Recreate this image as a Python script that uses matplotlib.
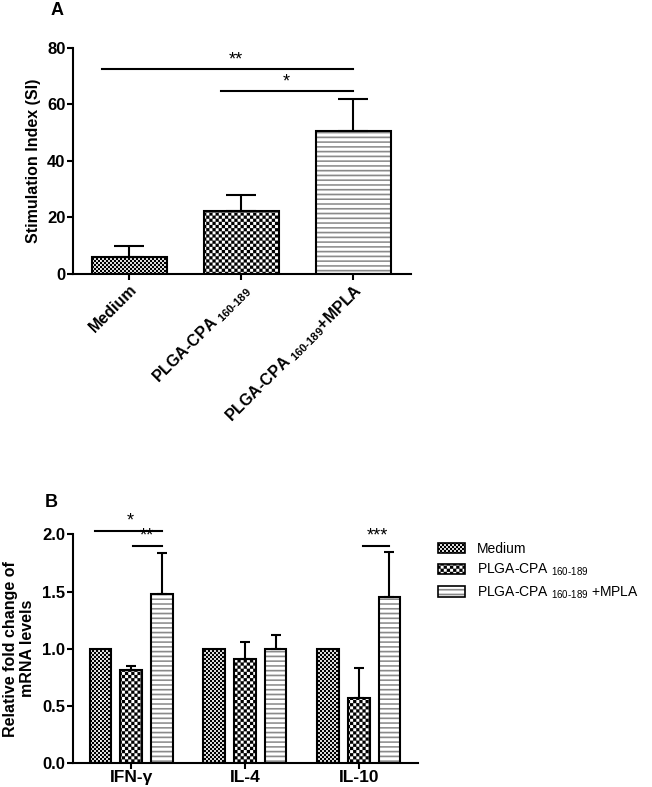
import numpy as np
import matplotlib
matplotlib.use('Agg')
import matplotlib.pyplot as plt
import matplotlib.hatch as mhatch
from matplotlib.path import Path
from matplotlib.patches import Patch

plt.rcParams['font.family'] = ['Liberation Sans', 'DejaVu Sans']
plt.rcParams['mathtext.fontset'] = 'custom'
plt.rcParams['mathtext.rm'] = 'Liberation Sans'
plt.rcParams['mathtext.bf'] = 'Liberation Sans:bold'
plt.rcParams['hatch.linewidth'] = 0.1

# --- data ---
groups_a = ['Medium', 'PLGA-CPA $_{\\mathregular{160\u2010189}}$',
            'PLGA-CPA $_{\\mathregular{160\u2010189}}$+MPLA']
si_mean = [6.0, 22.4, 50.6]
si_err = [3.9, 5.4, 11.5]

cytokines = ['IFN-\u03b3', 'IL-4', 'IL-10']
medium_fold = [1.0, 1.0, 1.0]
plga_fold = [0.81, 0.91, 0.57]
plga_err = [0.04, 0.15, 0.26]
mpla_fold = [1.48, 1.0, 1.45]
mpla_err = [0.36, 0.12, 0.40]
legend_labels = ['Medium', 'PLGA-CPA $_{\\mathregular{160\u2010189}}$',
                 'PLGA-CPA $_{\\mathregular{160\u2010189}}$ +MPLA']


# custom hatches: 'o' * n -> checkerboard with 2n cells per inch,
# '-' * n -> n grey stripes per inch (drawn as thin filled boxes)
class CheckerHatch(mhatch.HatchPatternBase):
    def __init__(self, hatch, density):
        self.n = hatch.count('o') * 2
        self.num_vertices = (self.n * self.n // 2) * 5

    def set_vertices_and_codes(self, vertices, codes):
        n = self.n
        c = 1.0 / n
        k = 0
        for i in range(n):
            for j in range(n):
                if (i + j) % 2:
                    continue
                x0, y0 = j * c, i * c
                vertices[k:k + 5] = [(x0, y0), (x0 + c, y0), (x0 + c, y0 + c),
                                     (x0, y0 + c), (x0, y0)]
                codes[k:k + 5] = [Path.MOVETO, Path.LINETO, Path.LINETO,
                                  Path.LINETO, Path.CLOSEPOLY]
                k += 5


class StripeHatch(mhatch.HatchPatternBase):
    def __init__(self, hatch, density):
        self.n = hatch.count('-')
        self.num_vertices = self.n * 5

    def set_vertices_and_codes(self, vertices, codes):
        t = 0.015
        for i in range(self.n):
            y0 = i / self.n
            vertices[i * 5:i * 5 + 5] = [(0, y0), (1, y0), (1, y0 + t),
                                         (0, y0 + t), (0, y0)]
            codes[i * 5:i * 5 + 5] = [Path.MOVETO, Path.LINETO, Path.LINETO,
                                      Path.LINETO, Path.CLOSEPOLY]


mhatch._hatch_types[:] = [CheckerHatch, StripeHatch]

styles = [('o' * 25, 'black'), ('o' * 16, 'black'), ('-' * 21, '#8a8a8a')]


def hatched_bar(ax, x, h, w, style):
    hatch, hcol = style
    ax.bar(x, h, w, color='white', edgecolor=hcol, hatch=hatch,
           linewidth=0, zorder=2)
    ax.bar(x, h, w, fill=False, edgecolor='black', linewidth=1.5, zorder=3)


def style_axes(ax):
    for s in ['top', 'right']:
        ax.spines[s].set_visible(False)
    for s in ['left', 'bottom']:
        ax.spines[s].set_linewidth(1.5)
    ax.tick_params(width=1.5, length=4, pad=1.5)


fig = plt.figure(figsize=(6.52, 7.87), dpi=100)

# ---------------- panel A ----------------
axa = fig.add_axes([0.112, 0.652, 0.519, 0.287])
xa = np.arange(len(si_mean))
for i in range(len(si_mean)):
    hatched_bar(axa, xa[i], si_mean[i], 0.67, styles[i])
axa.errorbar(xa, si_mean, yerr=[np.zeros(3), si_err], fmt='none',
             ecolor='black', elinewidth=1.5, capsize=10.5, capthick=1.5,
             zorder=4)
axa.set_xlim(-0.5, 2.52)
axa.set_ylim(0, 80)
axa.set_yticks([0, 20, 40, 60, 80])
axa.set_xticks(xa)
axa.set_xticklabels(groups_a, rotation=45, ha='right', rotation_mode='anchor',
                    fontsize=11.5, fontweight='bold')
for lab in axa.get_yticklabels():
    lab.set_fontsize(12)
    lab.set_fontweight('bold')
axa.set_ylabel('Stimulation Index (SI)', fontsize=11.5, fontweight='bold',
               labelpad=4)
style_axes(axa)
axa.plot([-0.24, 2.0], [72.5, 72.5], color='black', lw=1.5, clip_on=False)
axa.text(0.95, 72.9, '**', ha='center', va='bottom', fontsize=13)
axa.plot([0.82, 2.0], [64.7, 64.7], color='black', lw=1.5, clip_on=False)
axa.text(1.40, 65.1, '*', ha='center', va='bottom', fontsize=13)
fig.text(0.077, 0.998, 'A', fontsize=13, fontweight='bold', va='top')

# ---------------- panel B ----------------
axb = fig.add_axes([0.112, 0.0309, 0.529, 0.290])
xb = np.arange(len(cytokines))
offsets = [-0.27, 0.0, 0.27]
wb = 0.19
series = [medium_fold, plga_fold, mpla_fold]
for s in range(3):
    for g in range(3):
        hatched_bar(axb, xb[g] + offsets[s], series[s][g], wb, styles[s])
axb.errorbar(xb + offsets[1], plga_fold, yerr=[np.zeros(3), plga_err],
             fmt='none', ecolor='black', elinewidth=1.5, capsize=3.5,
             capthick=1.5, zorder=4)
axb.errorbar(xb + offsets[2], mpla_fold, yerr=[np.zeros(3), mpla_err],
             fmt='none', ecolor='black', elinewidth=1.5, capsize=3.5,
             capthick=1.5, zorder=4)
axb.set_xlim(-0.51, 2.52)
axb.set_ylim(0, 2.0)
axb.set_yticks([0.0, 0.5, 1.0, 1.5, 2.0])
axb.set_yticklabels(['0.0', '0.5', '1.0', '1.5', '2.0'], fontsize=12,
                    fontweight='bold')
axb.set_xticks(xb)
axb.set_xticklabels(cytokines, fontsize=12.5, fontweight='bold')
axb.set_ylabel('Relative fold change of\nmRNA levels', fontsize=11.5,
               fontweight='bold', labelpad=5)
style_axes(axb)
axb.plot([-0.32, 0.27], [2.03, 2.03], color='black', lw=1.5, clip_on=False)
axb.text(-0.01, 2.04, '*', ha='center', va='bottom', fontsize=13)
axb.plot([0.02, 0.27], [1.90, 1.90], color='black', lw=1.5, clip_on=False)
axb.text(0.14, 1.91, '**', ha='center', va='bottom', fontsize=13)
axb.plot([2.035, 2.27], [1.90, 1.90], color='black', lw=1.5, clip_on=False)
axb.text(2.16, 1.91, '***', ha='center', va='bottom', fontsize=13)
fig.text(0.068, 0.362, 'B', fontsize=13, fontweight='bold', va='center')

handles = []
for st in styles:
    handles.append((Patch(facecolor='white', edgecolor=st[1], hatch=st[0],
                          linewidth=0),
                    Patch(facecolor='none', edgecolor='black', linewidth=1.2)))
fig.legend(handles, legend_labels, loc='upper left',
           bbox_to_anchor=(0.672, 0.311), frameon=False, fontsize=10,
           handlelength=1.9, handleheight=0.75, handletextpad=0.9,
           labelspacing=0.42, borderpad=0, borderaxespad=0)

fig.savefig('out.png', dpi=100)
